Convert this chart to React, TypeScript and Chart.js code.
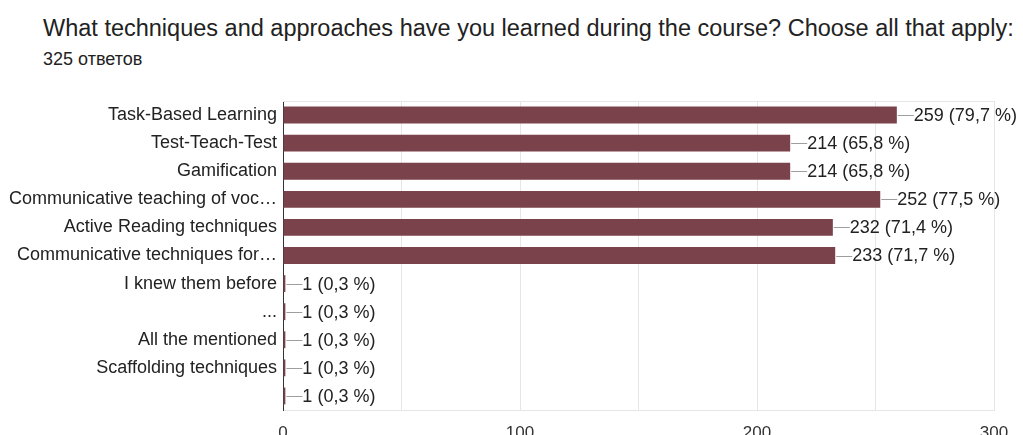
import React, { useEffect, useRef } from "react";
import { Chart, registerables } from "chart.js";

Chart.register(...registerables);

const titleText = "What techniques and approaches have you learned during the course? Choose all that apply:";
const subtitleText = "325 ответов";

const categories = [
  "Task-Based Learning",
  "Test-Teach-Test",
  "Gamification",
  "Communicative teaching of voc…",
  "Active Reading techniques",
  "Communicative techniques for…",
  "I knew them before",
  "...",
  "All the mentioned",
  "Scaffolding techniques",
  "",
];
const counts = [259, 214, 214, 252, 232, 233, 1, 1, 1, 1, 1];
const percents = ["79,7", "65,8", "65,8", "77,5", "71,4", "71,7", "0,3", "0,3", "0,3", "0,3", "0,3"];
const xTicks = [0, 100, 200, 300];

const FONT = "'Liberation Sans', Arial, Helvetica, sans-serif";

const valueLabelPlugin = {
  id: "valueLabels",
  afterDatasetsDraw(chart: any) {
    const ctx = chart.ctx;
    const meta = chart.getDatasetMeta(0);
    ctx.save();
    meta.data.forEach((bar: any, i: number) => {
      const x = bar.x;
      const y = bar.y;
      ctx.strokeStyle = "#9e9e9e";
      ctx.lineWidth = 1;
      ctx.beginPath();
      ctx.moveTo(x + 1, Math.round(y) + 0.5);
      ctx.lineTo(x + 17, Math.round(y) + 0.5);
      ctx.stroke();
      ctx.fillStyle = "#222222";
      ctx.font = `18px ${FONT}`;
      ctx.textAlign = "left";
      ctx.textBaseline = "middle";
      ctx.fillText(`${counts[i]} (${percents[i]} %)`, x + 17, y + 1);
    });
    ctx.restore();
  },
};

export default function App() {
  const ref = useRef<HTMLCanvasElement | null>(null);
  useEffect(() => {
    document.body.style.margin = "0";
    if (!ref.current) return;
    const chart = new Chart(ref.current, {
      type: "bar",
      data: {
        labels: categories,
        datasets: [
          {
            data: counts,
            backgroundColor: "#7a424a",
            borderWidth: 0,
            barPercentage: 0.6,
            categoryPercentage: 1,
          },
        ],
      },
      options: {
        indexAxis: "y",
        animation: false,
        responsive: false,
        maintainAspectRatio: false,
        layout: { padding: { top: 101, right: 29, left: 0, bottom: 0 } },
        plugins: {
          legend: { display: false },
          tooltip: { enabled: false },
          title: { display: false },
        },
        scales: {
          x: {
            min: 0,
            max: 300,
            afterFit(scale: any) {
              scale.height = 25;
            },
            afterBuildTicks(scale: any) {
              const t: any[] = [];
              for (let v = 0; v <= 300; v += 50) t.push({ value: v });
              scale.ticks = t;
            },
            ticks: {
              padding: 13,
              color: "#333333",
              font: { family: FONT, size: 17 },
              callback: (v: any) => (xTicks.includes(Number(v)) ? String(v) : ""),
              maxRotation: 0,
              autoSkip: false,
            },
            grid: { color: "#e6e6e6", drawTicks: false },
            border: { display: true, color: "#e6e6e6" },
          },
          y: {
            afterFit(scale: any) {
              scale.width = 283;
            },
            ticks: {
              padding: 6,
              color: "#222222",
              font: { family: FONT, size: 18 },
              autoSkip: false,
            },
            grid: { display: false, drawTicks: false },
            border: { display: true, color: "#333333", width: 1 },
          },
        },
      },
      plugins: [
        valueLabelPlugin,
        {
          id: "frame",
          beforeDatasetsDraw(chart: any) {
            const { ctx, chartArea } = chart;
            ctx.save();
            ctx.strokeStyle = "#e6e6e6";
            ctx.lineWidth = 1;
            ctx.beginPath();
            ctx.moveTo(chartArea.left, chartArea.top + 0.5);
            ctx.lineTo(chartArea.right, chartArea.top + 0.5);
            ctx.stroke();
            ctx.restore();
          },
        },
      ],
    } as any);
    return () => chart.destroy();
  }, []);

  return (
    <div style={{ position: "relative", width: 1023, height: 435, background: "#fff" }}>
      <div
        style={{
          position: "absolute",
          left: 43,
          top: 16,
          fontFamily: FONT,
          fontSize: 23.5,
          color: "#222222",
          whiteSpace: "nowrap",
          lineHeight: "24px",
        }}
      >
        {titleText}
      </div>
      <div
        style={{
          position: "absolute",
          left: 43,
          top: 50,
          fontFamily: FONT,
          fontSize: 18,
          color: "#222222",
          whiteSpace: "nowrap",
          lineHeight: "18px",
        }}
      >
        {subtitleText}
      </div>
      <canvas ref={ref} width={1023} height={435} style={{ position: "absolute", left: 0, top: 0 }} />
    </div>
  );
}
